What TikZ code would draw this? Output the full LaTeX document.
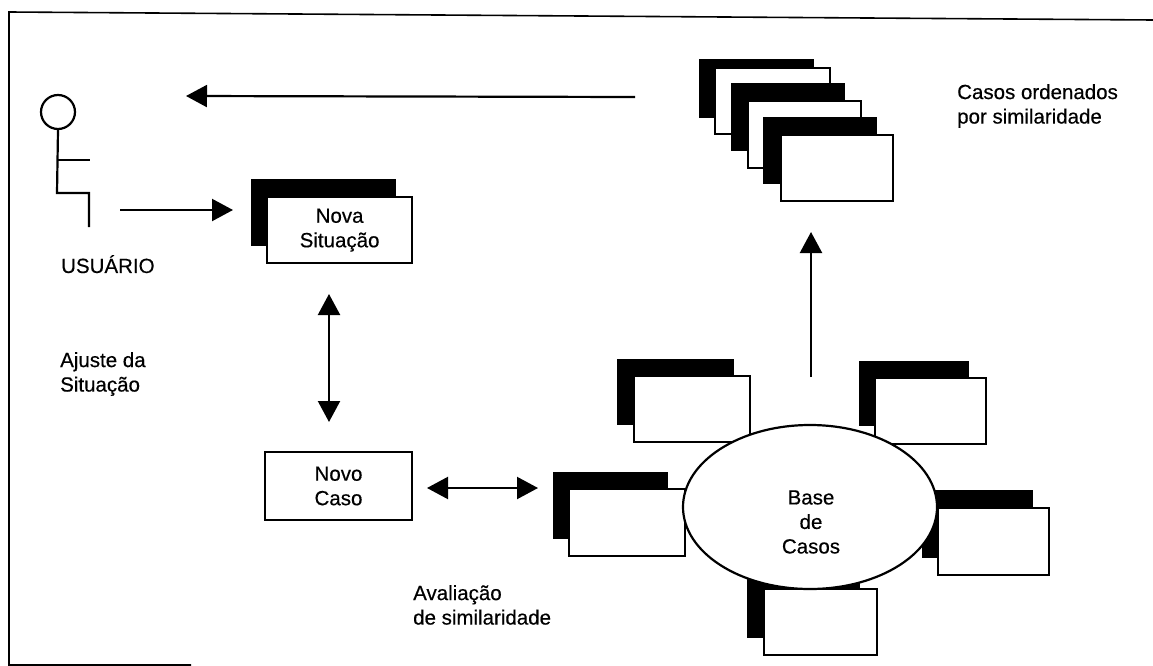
\documentclass[tikz,border=0pt]{standalone}
\usepackage{fontspec}
\setmainfont[FakeBold=0.4]{Liberation Sans}
\usetikzlibrary{arrows.meta,shapes.geometric}

\tikzset{
  caseback/.style={fill=black, draw=black, inner sep=0pt, anchor=north west},
  casefront/.style={fill=white, draw=black, line width=2.2pt, inner sep=0pt, anchor=north west, align=center},
  lbl/.style={align=left, anchor=north west, inner sep=0pt},
  conn/.style={line width=2.2pt, -{Triangle[length=21pt, width=22pt]}},
  biconn/.style={line width=2.2pt, {Triangle[length=21pt, width=22pt]}-{Triangle[length=21pt, width=22pt]}}
}

\begin{document}
\begin{tikzpicture}[x=1pt, y=-1pt, font=\fontsize{20.5pt}{24.5pt}\selectfont]
  \useasboundingbox (0,0) rectangle (1153,666);
  \fill[white] (0,0) rectangle (1153,666);

  % frame
  \coordinate (framebl) at (9,665);
  \coordinate (frametl) at (9,12);
  \coordinate (frametr) at (1153,20);
  \coordinate (framebe) at (191,665);
  \draw[line width=1.6pt] (framebe) -- (framebl) -- (frametl) -- (frametr);

  % user
  \node[draw, circle, line width=2.2pt, minimum size=34pt, inner sep=0pt] (head) at (58,112) {};
  \coordinate (hip) at (57,193);
  \coordinate (foot) at (89,227);
  \coordinate (hand) at (90,160);
  \coordinate (arm) at (57,160);
  \draw[line width=2.2pt] (head.south) -- (hip) -| (foot);
  \draw[line width=2.2pt] (arm) -- (hand);
  \node[lbl] (user) at (61,255) {USUÁRIO};

  % top arrow
  \coordinate (stackout) at (635,97);
  \coordinate (userin) at (186,96);
  \draw[conn] (stackout) -- (userin);

  % new situation
  \node[caseback, minimum width=144pt, minimum height=66pt] (newback) at (251,179) {};
  \node[casefront, minimum width=145pt, minimum height=66pt] (newfront) at (266,196) {Nova\\Situação};
  \coordinate (userout) at (120,210);
  \coordinate (newin) at (233,210);
  \draw[conn] (userout) -- (newin);
  \coordinate (adjtop) at (329,294);
  \coordinate (adjbot) at (329,422);
  \draw[biconn] (adjtop) -- (adjbot);
  \node[lbl] (adjust) at (60,352) {Ajuste da\\Situação};

  % new case
  \node[draw, line width=2.2pt, minimum width=147pt, minimum height=68pt, inner sep=0pt, align=center] (newcase) at (338.5,486) {Novo\\Caso};
  \coordinate (evalleft) at (427,488);
  \coordinate (evalright) at (538,488);
  \draw[biconn] (evalleft) -- (evalright);
  \node[lbl] (evallabel) at (413,585) {Avaliação\\de similaridade};

  % ordered stack
  \node[caseback, minimum width=114pt, minimum height=58pt] (oneback) at (699,59) {};
  \node[casefront, minimum width=115pt, minimum height=66pt] (onefront) at (714,67) {};
  \node[caseback, minimum width=113pt, minimum height=67pt] (twoback) at (731,83) {};
  \node[casefront, minimum width=113pt, minimum height=67pt] (twofront) at (747,100) {};
  \node[caseback, minimum width=113pt, minimum height=66pt] (threeback) at (763,117) {};
  \node[casefront, minimum width=112pt, minimum height=66pt] (threefront) at (780,134) {};
  \node[lbl] (orderedlabel) at (957,84) {Casos ordenados\\por similaridade};

  \coordinate (baseup) at (811,377);
  \coordinate (stackin) at (811,232);
  \draw[conn] (baseup) -- (stackin);

  % cases round the base
  \node[caseback, minimum width=116pt, minimum height=65pt] (ulback) at (617,359) {};
  \node[casefront, minimum width=116pt, minimum height=66pt] (ulfront) at (633,375) {};
  \node[caseback, minimum width=109pt, minimum height=64pt] (urback) at (859,361) {};
  \node[casefront, minimum width=111pt, minimum height=66pt] (urfront) at (874,377) {};
  \node[caseback, minimum width=114pt, minimum height=66pt] (lback) at (553,472) {};
  \node[casefront, minimum width=116pt, minimum height=67pt] (lfront) at (568,488) {};
  \node[caseback, minimum width=110pt, minimum height=67pt] (rback) at (922,490) {};
  \node[casefront, minimum width=111pt, minimum height=67pt] (rfront) at (937,507) {};
  \node[caseback, minimum width=112pt, minimum height=66pt] (bback) at (747,571) {};
  \node[casefront, minimum width=113pt, minimum height=66pt] (bfront) at (763,588) {};

  \node[draw, fill=white, ellipse, line width=2.2pt, minimum width=254pt, minimum height=164pt, inner sep=0pt] (base) at (810,507) {};
  \node[align=center, inner sep=0pt] (basetext) at (811,522) {Base\\de\\Casos};
\end{tikzpicture}
\end{document}
